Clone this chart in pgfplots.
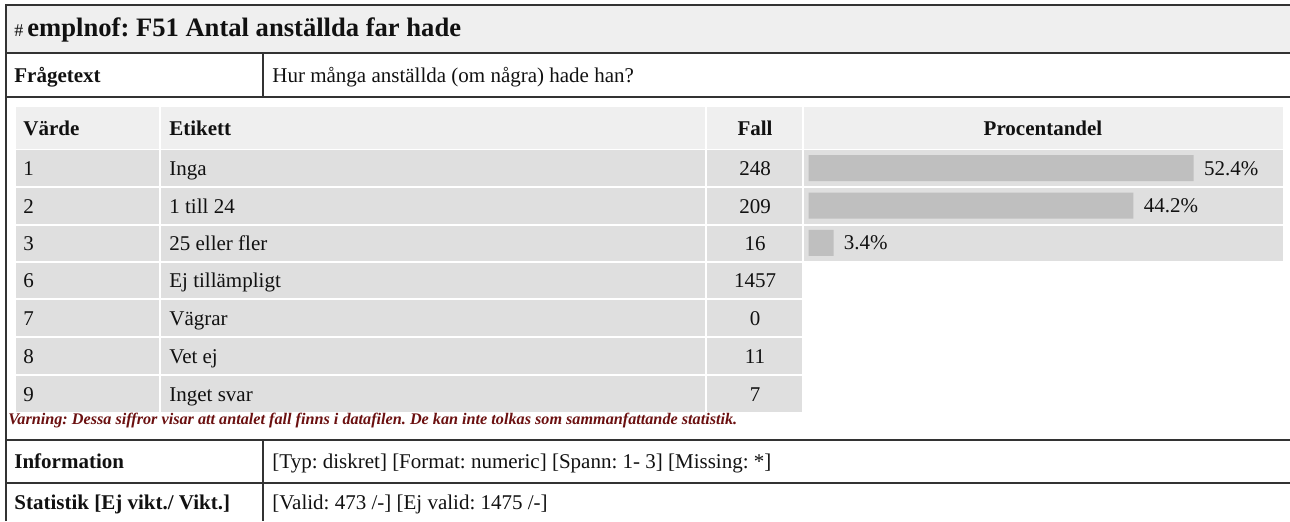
\documentclass[border=0pt]{standalone}
\usepackage{fontspec}
\setmainfont{Liberation Serif}
\usepackage{pgfplots}
\pgfplotsset{compat=1.18}
\frenchspacing
\definecolor{hdr}{HTML}{EFEFEF}
\definecolor{cell}{HTML}{DFDFDF}
\definecolor{barc}{HTML}{BFBFBF}
\definecolor{linec}{HTML}{333333}
\definecolor{warn}{HTML}{6B1010}
\definecolor{txt}{HTML}{111111}
\newcommand{\bodyf}{\fontsize{10.5pt}{12pt}\selectfont}
\begin{document}
\begin{tikzpicture}[every node/.style={text=txt}]
\begin{scope}[x=0.5pt,y=-0.5pt]
\useasboundingbox (0,0) rectangle (1290,521);
% title bar
\fill[hdr] (6,5) rectangle (1290,53);
% header cells
\fill[hdr] (16,107) rectangle (159,149);
\fill[hdr] (161,107) rectangle (705,149);
\fill[hdr] (707,107) rectangle (802,149);
\fill[hdr] (804,107) rectangle (1283,149);
% data cells
\foreach \a/\b in {150/186,188/224,226/261,263/298,300/336,338/374,376/412} {
  \fill[cell] (16,\a) rectangle (159,\b);
  \fill[cell] (161,\a) rectangle (705,\b);
  \fill[cell] (707,\a) rectangle (802,\b);
}
\foreach \a/\b in {150/186,188/224,226/261} {\fill[cell] (804,\a) rectangle (1283,\b);}
% rules
\draw[linec, line width=1pt] (6,521) -- (6,5) -- (1290,5);
\draw[linec, line width=1pt] (6,53) -- (1290,53);
\draw[linec, line width=1pt] (6,97) -- (1290,97);
\draw[linec, line width=0.6pt] (263,53) -- (263,97);
\draw[linec, line width=1pt] (6,440) -- (1290,440);
\draw[linec, line width=1pt] (6,483) -- (1290,483);
\draw[linec, line width=0.6pt] (263,440) -- (263,521);
% title
\node[anchor=base west, inner sep=0] at (14,36) {\fontsize{9pt}{10pt}\selectfont \#};
\node[anchor=base west, inner sep=0] at (27,36) {\fontsize{13.3pt}{15pt}\selectfont\bfseries emplnof: F51 Antal anställda far hade};
% question
\node[anchor=base west, inner sep=0] at (14,82) {\bodyf\bfseries Frågetext};
\node[anchor=base west, inner sep=0] at (272,82) {\bodyf Hur många anställda (om några) hade han?};
% table header
\node[anchor=base west, inner sep=0] at (23,135) {\bodyf\bfseries Värde};
\node[anchor=base west, inner sep=0] at (169,135) {\bodyf\bfseries Etikett};
\node[anchor=base, inner sep=0] at (755,135) {\bodyf\bfseries Fall};
\node[anchor=base, inner sep=0] at (1043,135) {\bodyf\bfseries Procentandel};
% rows
\foreach \v/\l/\f/\y in {1/Inga/248/175, 2/1 till 24/209/213, 3/25 eller fler/16/250.5, 6/Ej tillämpligt/1457/287.5, 7/Vägrar/0/325, 8/Vet ej/11/363, 9/Inget svar/7/401} {
  \node[anchor=base west, inner sep=0] at (23,\y) {\bodyf \v};
  \node[anchor=base west, inner sep=0] at (169,\y) {\bodyf \l};
  \node[anchor=base, inner sep=0] at (755,\y) {\bodyf \f};
}
% warning
\node[anchor=base west, inner sep=0] at (8,424) {\fontsize{8.1pt}{9pt}\selectfont\bfseries\itshape\color{warn}Varning: Dessa siffror visar att antalet fall finns i datafilen. De kan inte tolkas som sammanfattande statistik.};
% info rows
\node[anchor=base west, inner sep=0] at (14,468) {\bodyf\bfseries Information};
\node[anchor=base west, inner sep=0] at (272,468) {\bodyf [Typ: diskret] [Format: numeric] [Spann: 1- 3] [Missing: *]};
\node[anchor=base west, inner sep=0] at (14,509) {\bodyf\bfseries Statistik [Ej vikt./ Vikt.]};
\node[anchor=base west, inner sep=0] at (272,509) {\bodyf [Valid: 473 /-] [Ej valid: 1475 /-]};
\end{scope}
\begin{axis}[
  at={(404.25pt,-130.75pt)}, anchor=south west,
  scale only axis, width=237.25pt, height=56pt,
  xmin=0, xmax=64.56, ymin=0.5, ymax=3.5, y dir=reverse,
  hide axis, xbar, bar width=13pt,
  point meta=explicit symbolic,
  nodes near coords,
  every node near coord/.style={anchor=west, inner sep=0pt, xshift=5pt, font=\bodyf, text=txt},
  clip=false,
]
\addplot[fill=barc, draw=none] coordinates {(52.4,1) [52.4\%] (44.2,2) [44.2\%] (3.4,3) [3.4\%]};
\end{axis}
\end{tikzpicture}
\end{document}
